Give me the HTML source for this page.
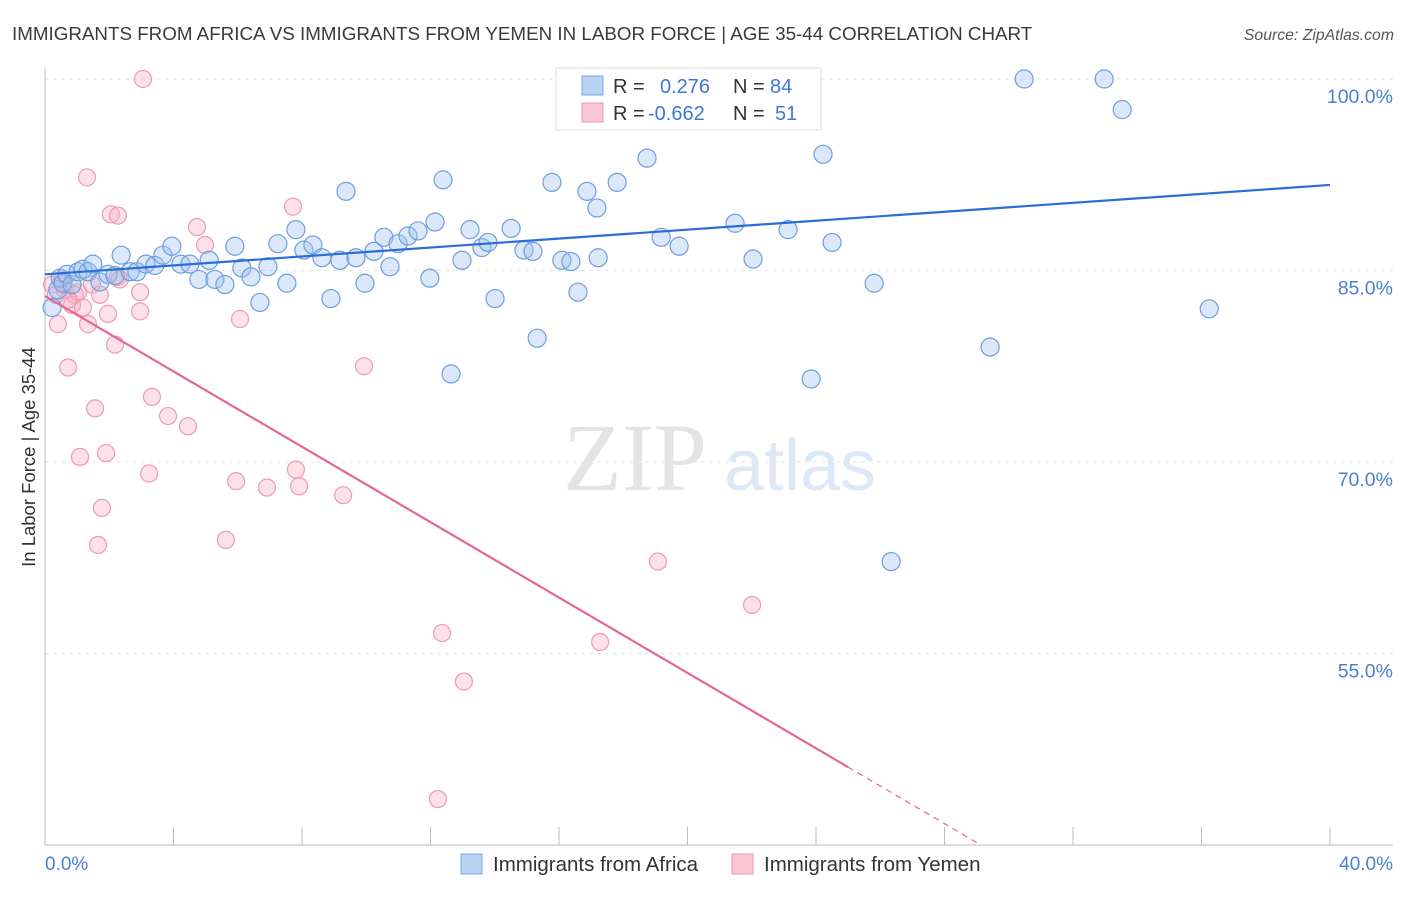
<!DOCTYPE html>
<html><head><meta charset="utf-8"><style>
body{margin:0;background:#fff;font-family:"Liberation Sans",sans-serif;}
svg text{font-family:"Liberation Sans",sans-serif;}
</style></head><body>
<svg id="chart" width="1406" height="892">
<text x="12" y="40" font-size="18.8" fill="#3a3a3a">IMMIGRANTS FROM AFRICA VS IMMIGRANTS FROM YEMEN IN LABOR FORCE | AGE 35-44 CORRELATION CHART</text>
<text x="1394" y="40" font-size="15.8" fill="#555" font-style="italic" text-anchor="end">Source: ZipAtlas.com</text>
<text x="35" y="457" font-size="18.5" fill="#333" text-anchor="middle" transform="rotate(-90 35 457)">In Labor Force | Age 35-44</text>
<g id="grid"></g>
<g><text x="635" y="490" font-size="96" fill="#e4e4e4" text-anchor="middle" font-family="Liberation Serif" style="font-family:'Liberation Serif',serif">ZIP</text><text x="800" y="490" font-size="72" fill="#dde8f6" text-anchor="middle">atlas</text></g>
<g id="pts"></g>
<g id="lines"></g>
<g>
<rect x="556" y="68" width="265" height="62" fill="#fff" stroke="#ddd"/>
<rect x="582" y="76" width="21" height="19" fill="#b9d3f5" stroke="#7aa7e3"/>
<rect x="582" y="103" width="21" height="19" fill="#f9c6d4" stroke="#eb94ae"/>
<text x="613" y="93" font-size="20" fill="#333">R = </text><text x="660" y="93" font-size="20" fill="#3d78d8">0.276</text>
<text x="733" y="93" font-size="20" fill="#333">N = </text><text x="770" y="93" font-size="20" fill="#3d78d8">84</text>
<text x="613" y="120" font-size="20" fill="#333">R = </text><text x="648" y="120" font-size="20" fill="#3d78d8">-0.662</text>
<text x="733" y="120" font-size="20" fill="#333">N = </text><text x="775" y="120" font-size="20" fill="#3d78d8">51</text>
</g>
<g>
<rect x="461" y="854" width="21" height="20" fill="#b9d3f5" stroke="#7aa7e3"/>
<text x="493" y="871" font-size="20.5" fill="#333">Immigrants from Africa</text>
<rect x="732" y="854" width="21" height="20" fill="#f9c6d4" stroke="#eb94ae"/>
<text x="764" y="871" font-size="20.5" fill="#333">Immigrants from Yemen</text>
</g>
</svg>
<script>
const yTicks=[100,85,70,55];
const yTickLabels=["100.0%","85.0%","70.0%","55.0%"];
const xEndLabels=["0.0%","40.0%"];
const africaX=[0.22,0.40,0.47,0.56,0.68,0.84,1.03,1.18,1.34,1.49,1.71,1.96,2.18,2.37,2.65,2.86,3.14,3.42,3.67,3.95,4.23,4.51,4.79,5.11,5.29,5.60,5.91,6.13,6.41,6.69,6.94,7.25,7.53,7.81,8.06,8.34,8.62,8.90,9.18,9.37,9.68,9.96,10.24,10.55,10.74,10.99,11.30,11.61,11.98,12.14,12.39,12.64,12.98,13.23,13.60,13.79,14.01,14.51,14.91,15.19,15.32,15.78,16.09,16.37,16.59,16.87,17.18,17.22,17.81,18.74,19.18,19.74,20.39,21.48,22.04,23.13,23.19,23.85,24.22,24.50,25.81,26.34,29.42,30.48,32.97,33.53,36.24];
const africaY=[82.1,83.5,84.4,84.0,84.7,83.9,84.9,85.1,84.9,85.5,84.1,84.7,84.6,86.2,84.9,84.9,85.5,85.4,86.2,86.9,85.5,85.5,84.3,85.8,84.3,83.9,86.9,85.2,84.5,82.5,85.3,87.1,84.0,88.2,86.6,87.0,86.0,82.8,85.8,91.2,86.0,84.0,86.5,87.6,85.3,87.1,87.7,88.1,84.4,88.8,92.1,76.9,85.8,88.2,86.8,87.2,82.8,88.3,86.6,86.5,79.7,91.9,85.8,85.7,83.3,91.2,89.9,86.0,91.9,93.8,87.6,86.9,99.9,88.7,85.9,88.2,99.9,76.5,94.1,87.2,84.0,62.2,79.0,100,100,97.6,82.0];
const yemenX=[0.22,0.34,0.40,0.53,0.62,0.72,0.84,0.93,1.03,1.09,1.18,1.31,1.34,1.46,1.56,1.65,1.77,1.90,1.96,2.05,2.18,2.27,2.27,2.96,2.96,3.05,3.24,3.33,3.83,4.45,4.73,4.98,5.63,5.95,6.07,6.91,7.72,7.81,7.91,9.28,9.93,12.23,12.36,13.04,17.28,19.08,22.01,0.53,0.72,1.71,2.33];
const yemenY=[83.9,83.1,80.8,84.3,83.5,77.4,82.3,83.1,83.3,70.4,82.1,92.3,80.8,83.9,74.2,63.5,66.4,70.7,81.6,89.4,79.2,89.3,84.5,83.3,81.8,100,69.1,75.1,73.6,72.8,88.4,87.0,63.9,68.5,81.2,68.0,90.0,69.4,68.1,67.4,77.5,43.6,56.6,52.8,55.9,62.2,58.8,84.0,82.7,83.1,84.3];
const africaTrend=[84.7,91.7]; // values at x=0 and x=40
const yemenTrend=[83.0,-1.476]; // intercept, slope
const yemenSolidEnd=25.0, yemenDashEnd=29.04;

const X0=45,X1=1330,YTOP=79,YBOT=845;
const sx=v=>X0+(v/40)*(X1-X0);
const sy=v=>YTOP+(100-v)/(100-40)*(YBOT-YTOP);
const NS="http://www.w3.org/2000/svg";
function mk(tag,attrs,parent){const e=document.createElementNS(NS,tag);for(const k in attrs)e.setAttribute(k,attrs[k]);parent.appendChild(e);return e;}
const grid=document.getElementById('grid');
yTicks.forEach((t,i)=>{
  const l=mk('line',{x1:X0,x2:1393,y1:sy(t),y2:sy(t),stroke:'#e2e2e2','stroke-dasharray':'4,4'},grid);
  
  
  const tx=mk('text',{x:1393,y:sy(t)+24,'font-size':19.5,fill:'#4a7fd4','text-anchor':'end'},grid);
  tx.textContent=yTickLabels[i];
  
  
});
const ax=mk('line',{x1:X0,x2:X0,y1:68,y2:YBOT,stroke:'#bbb'},grid);


const bx=mk('line',{x1:X0,x2:1393,y1:YBOT,y2:YBOT,stroke:'#bbb'},grid);


for(let i=0;i<=10;i++){
  const t=mk('line',{x1:sx(i*4),x2:sx(i*4),y1:827,y2:YBOT,stroke:'#bbb'},grid);
  
  
}
[[0,'start',X0],[1,'end',1393]].forEach(([i,a,x])=>{
  const t=mk('text',{x:x,y:870,'font-size':19,fill:'#4a7fd4','text-anchor':a},grid);
  t.textContent=xEndLabels[i];
  
  
});
const pts=document.getElementById('pts');
yemenX.forEach((x,i)=>{
  const c=mk('circle',{cx:sx(x),cy:sy(yemenY[i]),r:8.5,fill:'rgba(246,170,192,0.35)',stroke:'#eb9bb3','stroke-width':1.2},pts);
  
  
});
africaX.forEach((x,i)=>{
  const c=mk('circle',{cx:sx(x),cy:sy(africaY[i]),r:9,fill:'rgba(160,195,240,0.38)',stroke:'#6d9de0','stroke-width':1.2},pts);
  
  
});
const lines=document.getElementById('lines');
const bl=mk('line',{x1:sx(0),y1:sy(africaTrend[0]),x2:sx(40),y2:sy(africaTrend[1]),stroke:'#2a6dd6','stroke-width':2.2},lines);


const yl=v=>yemenTrend[0]+yemenTrend[1]*v;
const pl=mk('line',{x1:sx(0),y1:sy(yl(0)),x2:sx(yemenSolidEnd),y2:sy(yl(yemenSolidEnd)),stroke:'#e4678f','stroke-width':2.2},lines);


const pd=mk('line',{x1:sx(yemenSolidEnd),y1:sy(yl(yemenSolidEnd)),x2:sx(yemenDashEnd),y2:sy(yl(yemenDashEnd)),stroke:'#e4678f','stroke-width':1.2,'stroke-dasharray':'6,5'},lines);


</script>
</body></html>
